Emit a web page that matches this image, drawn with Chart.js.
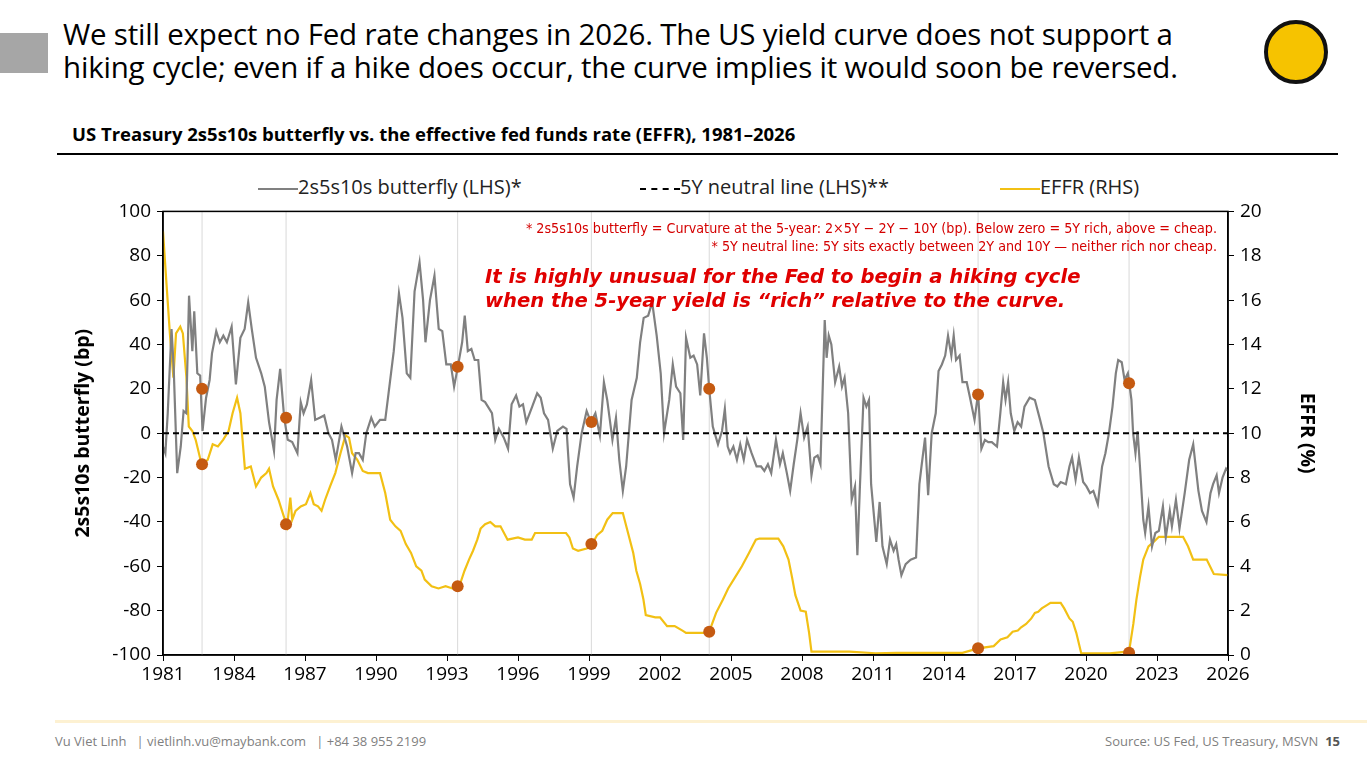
<!DOCTYPE html>
<html><head><meta charset="utf-8">
<script src="https://cdn.jsdelivr.net/npm/chart.js@4"></script>
<style>
body{margin:0;width:1367px;height:777px;position:relative;background:#fff;font-family:"Open Sans",sans-serif;overflow:hidden}
.abs{position:absolute}
#head{left:63px;top:17px;font-size:29.5px;line-height:33px;color:#000;letter-spacing:-0.2px}
#sub{left:72px;top:121px;font-size:18.5px;font-weight:bold;color:#000}
#leg{top:173px;font-size:20px;color:#222;white-space:nowrap}
.ln{display:inline-block;width:40px;height:0;vertical-align:middle}
#foot{top:732px;font-size:13px;color:#7f7f7f}
#cv{left:72px;top:194px}
</style></head><body>
<div class="abs" style="left:0;top:33px;width:48px;height:40px;background:#a6a6a6"></div>
<div class="abs" id="head">We still expect no Fed rate changes in 2026. The US yield curve does not support a<br>hiking cycle; even if a hike does occur, the curve implies it would soon be reversed.</div>
<div class="abs" style="left:1264px;top:20px;width:64px;height:64px;border-radius:50%;background:#f6c300;border:4px solid #111;box-sizing:border-box"></div>
<div class="abs" id="sub">US Treasury 2s5s10s butterfly vs. the effective fed funds rate (EFFR), 1981–2026</div>
<div class="abs" style="left:57px;top:153px;width:1281px;height:2px;background:#000"></div>
<div class="abs" id="leg" style="left:258px"><span class="ln" style="border-top:2.5px solid #808080"></span>2s5s10s butterfly (LHS)*</div>
<div class="abs" id="leg" style="left:640px"><span class="ln" style="border-top:2px dashed #000"></span>5Y neutral line (LHS)**</div>
<div class="abs" id="leg" style="left:1000px"><span class="ln" style="border-top:2.5px solid #f2c014"></span>EFFR (RHS)</div>
<div class="abs" style="left:55px;top:720px;width:1312px;height:3px;background:#fdf1d2"></div>
<div class="abs" id="foot" style="left:55px">Vu Viet Linh &nbsp;&nbsp;| vietlinh.vu@maybank.com &nbsp;&nbsp;| +84 38 955 2199</div>
<div class="abs" id="foot" style="right:27px">Source: US Fed, US Treasury, MSVN &nbsp;<b style="color:#555">15</b></div>
<canvas id="cv" class="abs" width="1246" height="511" style="width:1246px;height:511px"></canvas>
<script>
const bfYears = [1981.0,1981.1,1981.2,1981.36,1981.45,1981.6,1981.75,1981.87,1981.98,1982.1,1982.24,1982.32,1982.45,1982.57,1982.67,1982.82,1982.97,1983.07,1983.25,1983.4,1983.55,1983.7,1983.9,1984.08,1984.27,1984.45,1984.6,1984.75,1984.93,1985.15,1985.3,1985.48,1985.69,1985.8,1985.95,1986.12,1986.27,1986.46,1986.68,1986.82,1986.94,1987.08,1987.26,1987.43,1987.62,1987.81,1987.99,1988.14,1988.3,1988.54,1988.78,1988.99,1989.14,1989.28,1989.44,1989.59,1989.8,1989.95,1990.17,1990.39,1990.53,1990.75,1990.97,1991.12,1991.3,1991.45,1991.63,1991.84,1991.99,1992.09,1992.28,1992.47,1992.65,1992.8,1992.97,1993.16,1993.3,1993.46,1993.64,1993.75,1993.88,1994.03,1994.17,1994.32,1994.46,1994.61,1994.9,1995.04,1995.19,1995.4,1995.58,1995.73,1995.92,1996.06,1996.21,1996.35,1996.6,1996.81,1996.96,1997.1,1997.27,1997.47,1997.66,1997.9,1998.05,1998.2,1998.35,1998.5,1998.69,1998.9,1999.08,1999.27,1999.46,1999.63,1999.77,1999.99,2000.14,2000.28,2000.43,2000.57,2000.8,2001.02,2001.16,2001.31,2001.5,2001.67,2001.86,2002.03,2002.17,2002.39,2002.54,2002.68,2002.86,2002.98,2003.1,2003.28,2003.42,2003.57,2003.7,2003.86,2003.98,2004.08,2004.23,2004.45,2004.62,2004.74,2004.86,2004.96,2005.1,2005.25,2005.39,2005.54,2005.68,2005.87,2006.08,2006.27,2006.41,2006.56,2006.7,2006.9,2007.07,2007.19,2007.36,2007.5,2007.65,2007.8,2007.94,2008.09,2008.24,2008.4,2008.52,2008.66,2008.78,2008.96,2009.04,2009.13,2009.24,2009.4,2009.57,2009.69,2009.8,2009.95,2010.1,2010.24,2010.34,2010.44,2010.6,2010.72,2010.83,2010.92,2011.14,2011.28,2011.4,2011.58,2011.72,2011.87,2011.98,2012.08,2012.2,2012.38,2012.59,2012.82,2012.96,2013.06,2013.2,2013.33,2013.48,2013.65,2013.77,2013.91,2014.05,2014.17,2014.31,2014.41,2014.51,2014.66,2014.78,2014.96,2015.1,2015.29,2015.44,2015.58,2015.73,2015.87,2016.02,2016.24,2016.38,2016.5,2016.6,2016.71,2016.82,2016.97,2017.11,2017.26,2017.4,2017.62,2017.84,2018.06,2018.2,2018.42,2018.64,2018.79,2018.93,2019.15,2019.3,2019.41,2019.56,2019.7,2019.88,2020.02,2020.17,2020.31,2020.5,2020.68,2020.82,2020.97,2021.12,2021.26,2021.36,2021.51,2021.63,2021.77,2021.92,2021.99,2022.09,2022.18,2022.28,2022.42,2022.5,2022.64,2022.79,2022.93,2023.08,2023.25,2023.37,2023.54,2023.63,2023.8,2023.95,2024.17,2024.36,2024.53,2024.75,2024.9,2025.09,2025.26,2025.37,2025.52,2025.62,2025.77,2025.92,2026.0];
const bfValues = [-6,-9,9,47,30,-18,-6,10,9,62,37,55,27,26,1,16,24,36,46,41,44,41,48,22,43,47,59,47,34,27,21,5,-8,15,29,7,-3,-4,-9,14,9,13,24,6,7,8,0,-3,-12,3,-6,-18,-9,-9,-12,0,7,3,6,6,18,37,63,52,27,25,64,77,60,41,60,71,47,46,31,31,21,30,41,53,37,38,33,33,15,14,9,-3,2,-2,-7,13,17,12,13,5,12,18,16,9,6,-7,1,3,2,-23,-29,-15,0,10,5,9,-1,23,15,-3,7,-12,-26,-15,15,25,41,52,53,59,44,27,0,15,31,21,18,-3,43,34,35,31,17,45,34,20,3,-5,1,11,-6,-9,-6,-12,-5,-12,-3,-9,-15,-15,-17,-14,-18,-3,-14,-9,-18,-26,-14,-3,9,-2,3,-19,-11,-10,-14,51,34,44,40,23,30,21,25,9,-30,-24,-55,-26,16,12,15,-23,-49,-31,-51,-59,-48,-53,-50,-57,-64,-59,-57,-56,-23,-14,-2,-28,0,9,28,31,35,44,35,44,33,35,23,23,16,6,18,-7,-3,-4,-4,-6,9,23,15,23,9,1,5,3,12,16,15,6,0,-15,-23,-24,-22,-23,-15,-11,-21,-11,-22,-24,-27,-26,-32,-15,-9,0,12,27,33,32,24,27,15,0,-9,1,-15,-39,-45,-33,-51,-45,-44,-33,-47,-35,-42,-30,-43,-27,-12,-5,-26,-35,-40,-27,-23,-19,-27,-20,-16,-17];

const effrYears = [1981.0,1981.15,1981.29,1981.44,1981.55,1981.73,1981.84,1981.99,1982.09,1982.24,1982.38,1982.63,1982.89,1983.1,1983.32,1983.54,1983.77,1983.94,1984.13,1984.27,1984.46,1984.71,1984.93,1985.15,1985.37,1985.48,1985.65,1985.88,1986.03,1986.24,1986.38,1986.46,1986.6,1986.82,1987.04,1987.23,1987.37,1987.55,1987.7,1987.85,1988.06,1988.28,1988.5,1988.71,1988.86,1988.99,1989.21,1989.44,1989.66,1989.88,1990.17,1990.39,1990.6,1990.82,1991.04,1991.26,1991.48,1991.7,1991.92,1992.06,1992.35,1992.64,1992.94,1993.23,1993.52,1993.74,1993.93,1994.1,1994.28,1994.42,1994.61,1994.83,1995.04,1995.26,1995.56,1996.0,1996.29,1996.58,1996.72,1997.16,1997.59,1998.03,1998.17,1998.32,1998.54,1998.9,1999.08,1999.34,1999.56,1999.77,2000.0,2000.25,2000.43,2000.65,2000.87,2001.0,2001.16,2001.3,2001.4,2001.8,2002.0,2002.3,2002.62,2002.95,2003.1,2003.5,2003.86,2004.08,2004.37,2004.66,2004.88,2005.17,2005.46,2005.76,2006.05,2006.2,2006.5,2007.0,2007.21,2007.43,2007.58,2007.72,2007.94,2008.16,2008.3,2008.4,2009.0,2010.0,2011.1,2012.0,2013.0,2014.0,2014.78,2015.44,2016.1,2016.39,2016.68,2016.9,2017.12,2017.26,2017.47,2017.69,2017.84,2017.98,2018.13,2018.35,2018.5,2018.93,2019.08,2019.3,2019.44,2019.59,2019.8,2020.2,2021.0,2021.74,2021.84,2022.0,2022.13,2022.28,2022.42,2022.64,2022.86,2023.08,2024.1,2024.31,2024.53,2025.1,2025.4,2026.0];
const effrValues = [19.1,16.7,14.5,12.5,14.5,14.8,14.5,12.5,10.3,10.1,9.7,8.6,8.8,9.5,9.4,9.7,10.1,10.9,11.6,10.9,8.4,8.5,7.6,8.0,8.2,8.4,7.6,7.0,6.5,5.8,7.1,6.1,6.5,6.7,6.8,7.3,6.8,6.7,6.5,7.0,7.6,8.2,9.1,9.9,9.8,9.1,8.8,8.3,8.2,8.2,8.2,7.3,6.1,5.8,5.6,5.0,4.6,4.0,3.8,3.4,3.1,3.0,3.1,3.0,3.1,3.8,4.3,4.7,5.2,5.7,5.9,6.0,5.8,5.8,5.2,5.3,5.2,5.2,5.5,5.5,5.5,5.5,5.3,4.8,4.7,4.8,4.9,5.4,5.6,6.1,6.4,6.4,6.4,5.5,4.6,3.8,3.2,2.5,1.8,1.7,1.7,1.3,1.3,1.1,1.0,1.0,1.0,1.05,1.9,2.5,3.0,3.5,4.0,4.6,5.2,5.25,5.25,5.25,4.9,4.3,3.5,2.7,2.0,1.95,1.0,0.15,0.15,0.15,0.08,0.1,0.1,0.1,0.1,0.3,0.4,0.7,0.8,1.05,1.1,1.25,1.4,1.65,1.9,1.95,2.1,2.25,2.35,2.35,2.1,1.65,1.5,1.0,0.07,0.07,0.07,0.15,0.3,1.4,2.5,3.5,4.3,4.9,5.1,5.33,5.33,4.9,4.3,4.3,3.65,3.6];

const markerYears = [1982.65, 1986.2, 1993.45, 1999.1, 2004.08, 2015.44, 2021.82];
const markerBf = [20, 7, 30, 5, 20, 17.5, 22.5];
const markerEffr = [8.6, 5.9, 3.1, 5.0, 1.05, 0.3, 0.1];
const xTicks = [1981,1984,1987,1990,1993,1996,1999,2002,2005,2008,2011,2014,2017,2020,2023,2026];

const pts = (xs, ys) => xs.map((x, i) => ({ x: x, y: ys[i] }));
const dot = { type: "scatter", pointRadius: 6, pointHoverRadius: 6, pointBackgroundColor: "#c55a11", pointBorderWidth: 0, order: 0 };
const tickFont = { size: 19, family: "'Open Sans', sans-serif" };
const titleFont = { size: 19.5, weight: "bold", family: "'Open Sans', sans-serif" };

// vertical marker lines, box and notes
const extras = {
  id: "extras",
  beforeDatasetsDraw(chart) {
    const { ctx, chartArea: a, scales } = chart;
    ctx.save();
    ctx.strokeStyle = "#d9d9d9";
    ctx.lineWidth = 1;
    markerYears.forEach(y => {
      const px = scales.x.getPixelForValue(y);
      ctx.beginPath(); ctx.moveTo(px, a.top); ctx.lineTo(px, a.bottom); ctx.stroke();
    });
    ctx.restore();
  },
  afterDatasetsDraw(chart) {
    const { ctx, chartArea: a } = chart;
    ctx.save();
    ctx.strokeStyle = "#000"; ctx.lineWidth = 1.5;
    ctx.strokeRect(a.left, a.top, a.right - a.left, a.bottom - a.top);
    ctx.fillStyle = "#d40000";
    ctx.textAlign = "right";
    ctx.font = "14.2px 'DejaVu Sans Condensed', sans-serif";
    ctx.fillText("* 2s5s10s butterfly = Curvature at the 5-year: 2×5Y − 2Y − 10Y (bp). Below zero = 5Y rich, above = cheap.", a.right - 11, a.top + 22);
    ctx.fillText("* 5Y neutral line: 5Y sits exactly between 2Y and 10Y — neither rich nor cheap.", a.right - 11, a.top + 40);
    ctx.textAlign = "left";
    ctx.fillStyle = "#e00000";
    ctx.font = "italic bold 19.6px 'DejaVu Sans', sans-serif";
    ctx.fillText("It is highly unusual for the Fed to begin a hiking cycle", 485 - 72, a.top + 72);
    ctx.fillText("when the 5-year yield is “rich” relative to the curve.", 485 - 72, a.top + 96);
    ctx.restore();
  }
};

new Chart(document.getElementById("cv"), {
  type: "line",
  data: {
    datasets: [
      Object.assign({ data: pts(markerYears, markerBf), yAxisID: "y" }, dot),
      Object.assign({ data: pts(markerYears, markerEffr), yAxisID: "y1" }, dot),
      { data: [{ x: 1981, y: 0 }, { x: 2026, y: 0 }], borderColor: "#000", borderWidth: 2, borderDash: [6, 4], pointRadius: 0, yAxisID: "y", order: 1 },
      { data: pts(bfYears, bfValues), borderColor: "#808080", borderWidth: 2.2, pointRadius: 0, tension: 0, yAxisID: "y", order: 2 },
      { data: pts(effrYears, effrValues), borderColor: "#f2c014", borderWidth: 2.2, pointRadius: 0, yAxisID: "y1", order: 3 }
    ]
  },
  options: {
    responsive: false,
    animation: false,
    layout: { padding: { top: 4 } },
    plugins: { legend: { display: false }, tooltip: { enabled: false } },
    scales: {
      x: {
        type: "linear", min: 1981, max: 2026,
        afterBuildTicks: s => { s.ticks = xTicks.map(v => ({ value: v })); },
        afterFit: s => { s.height = 50; },
        grid: { drawOnChartArea: false, color: "#000", tickLength: 6 },
        border: { color: "#000", width: 1.5 },
        ticks: { color: "#000", font: tickFont, callback: v => String(v), maxRotation: 0, padding: 2 },
      },
      y: {
        position: "left", min: -100, max: 100,
        afterFit: s => { s.width = 91; },
        grid: { drawOnChartArea: false, color: "#000", tickLength: 6 },
        border: { color: "#000", width: 1.5 },
        ticks: { stepSize: 20, color: "#000", font: tickFont, padding: 6 },
        title: { display: true, text: "2s5s10s butterfly (bp)", color: "#000", font: titleFont, padding: 0 }
      },
      y1: {
        position: "right", min: 0, max: 20,
        afterFit: s => { s.width = 90; },
        grid: { drawOnChartArea: false, color: "#000", tickLength: 6 },
        border: { color: "#000", width: 1.5 },
        ticks: { stepSize: 2, color: "#000", font: tickFont, padding: 6 },
        title: { display: true, text: "EFFR (%)", color: "#000", font: titleFont, padding: 0 }
      }
    }
  },
  plugins: [extras]
});
</script>
</body></html>
